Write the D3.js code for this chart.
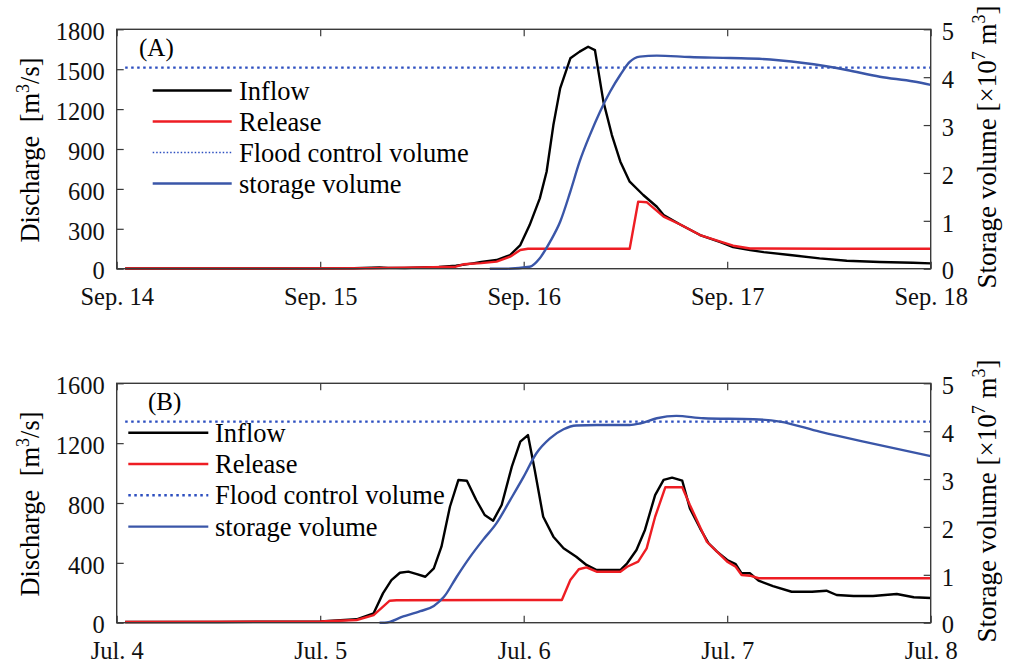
<!DOCTYPE html>
<html>
<head>
<meta charset="utf-8">
<script src="https://cdn.jsdelivr.net/npm/d3@7"></script>
<style>
    body { margin: 0; background: #fff; }
    svg, svg text { font-family: "Liberation Serif", "Times New Roman", Times, Tinos, "DejaVu Serif", serif; }
    .tick text { fill: #111; }
</style>
</head>
<body>
<div id="chart"></div>
<script>
// hours since start of the first day on the x axis
var dayTicks = [0, 24, 48, 72, 96];
var labelsA = ["Sep. 14", "Sep. 15", "Sep. 16", "Sep. 17", "Sep. 18"];
var labelsB = ["Jul. 4", "Jul. 5", "Jul. 6", "Jul. 7", "Jul. 8"];
var seriesNames = ["Inflow", "Release", "Flood control volume", "storage volume"];

// panel A
var inflowA_t = [1, 10, 20, 28, 30, 31, 32, 34, 38, 40, 42, 43, 44.8, 46.4, 47.6, 48.7, 49.9, 50.7, 51.5, 52.3, 53.5, 54.6, 55.6, 56.4, 57.4, 58.4, 59.4, 60.5, 62.1, 63.7, 64.5, 66.4, 68.8, 71.2, 72.7, 74.7, 76.3, 79.4, 82.9, 86.1, 90, 93.9, 96];
var inflowA = [2, 2, 2, 3, 8, 10, 6, 5, 14, 22, 40, 50, 65, 103, 178, 328, 529, 729, 1080, 1356, 1582, 1632, 1669, 1644, 1256, 1005, 805, 654, 554, 466, 404, 334, 253, 200, 162, 140, 125, 103, 78, 60, 50, 45, 40];
var releaseA_t = [1, 20, 30, 36, 40, 40.9, 43, 44.8, 46.4, 47.6, 48.5, 60.5, 61.5, 62.5, 64.5, 66.4, 68.8, 71.2, 72.7, 74.7, 85, 96];
var releaseA = [2, 2, 3, 10, 15, 33, 42, 53, 90, 141, 150, 150, 504, 500, 391, 334, 253, 203, 173, 152, 150, 150];
var storageA_t = [44, 46, 48.7, 49.9, 51.1, 52.3, 53.5, 54.6, 55.8, 57.0, 58.2, 59.4, 60.5, 61.7, 63.7, 67.6, 72.4, 77.1, 82.2, 86.1, 90, 94, 96];
var storageA = [0, 0, 0.04, 0.22, 0.56, 0.98, 1.61, 2.24, 2.79, 3.28, 3.70, 4.05, 4.32, 4.43, 4.45, 4.42, 4.40, 4.37, 4.27, 4.15, 4.01, 3.91, 3.84];
var floodA = 4.2;

// panel B
var inflowB_t = [1, 12, 24, 28.3, 30.3, 31.4, 32.4, 33.4, 34.4, 35.4, 36.4, 37.4, 38.3, 39.3, 40.3, 41.3, 42.4, 43.4, 44.4, 45.4, 46.6, 47.6, 48.5, 49.3, 50.3, 51.5, 52.7, 54.2, 55.4, 56.6, 59.4, 60.2, 61.3, 62.3, 63.5, 64.5, 65.5, 66.7, 67.6, 68.8, 69.8, 70.8, 72.0, 73.0, 73.7, 74.7, 75.7, 77.4, 79.6, 82.0, 83.7, 84.9, 86.9, 89.2, 92.0, 94.0, 96];
var inflowB = [5, 5, 8, 23, 63, 196, 285, 334, 341, 325, 307, 363, 508, 775, 954, 949, 820, 720, 682, 787, 1043, 1210, 1254, 1020, 708, 575, 497, 441, 386, 352, 352, 397, 486, 620, 853, 954, 969, 949, 764, 631, 531, 475, 419, 392, 330, 330, 281, 245, 207, 207, 214, 185, 178, 178, 192, 170, 165];
var releaseB_t = [1, 24, 28.3, 30.3, 32.2, 33, 52.5, 53.5, 54.5, 55.4, 56.6, 59.4, 60.2, 61.5, 62.5, 63.5, 64.7, 66.7, 67.6, 69.6, 72.0, 73.0, 73.7, 74.7, 75.7, 96];
var releaseB = [5, 8, 18, 51, 147, 150, 152, 285, 357, 370, 341, 341, 374, 408, 497, 708, 905, 905, 787, 541, 408, 374, 319, 314, 297, 297];
var storageB_t = [31, 31.6, 33.8, 35.8, 37.4, 38.6, 40.1, 41.7, 43.2, 44.8, 46.4, 48.0, 49.5, 51.1, 52.7, 54.2, 56.6, 60.5, 61.7, 63.7, 66.0, 69.2, 75.1, 78.2, 82.9, 88.9, 96];
var storageB = [0, 0, 0.13, 0.24, 0.35, 0.54, 0.96, 1.38, 1.73, 2.08, 2.56, 3.05, 3.54, 3.85, 4.04, 4.12, 4.13, 4.13, 4.16, 4.27, 4.32, 4.27, 4.25, 4.20, 3.99, 3.75, 3.48];
var floodB = 4.2;

var width = 1011, height = 666;
var fontFam = "'Liberation Serif', 'Times New Roman', Times, Tinos, 'DejaVu Serif', serif";
var axisColor = "#3a3a3a";
var colInflow = "#000000", colRelease = "#ee1d23", colStorage = "#3a56a8", colFlood = "#2d4fc0";
var lw = 2.4;

var svg = d3.select("#chart").append("svg")
    .attr("width", width)
    .attr("height", height)
    .attr("font-family", fontFam);

function pairs(t, v) {
    return t.map(function (d, i) { return { t: d, v: v[i] }; });
}

function drawPanel(p) {
    var left = 116.7, right = 930.7;
    var x = d3.scaleLinear().domain([0, 96]).range([left, right]);
    var yL = d3.scaleLinear().domain([0, p.maxL]).range([p.bottom, p.top]);
    var yR = d3.scaleLinear().domain([0, 5]).range([p.bottom, p.top]);

    var g = svg.append("g");

    // x axis bottom with labels, ticks pointing in
    var xb = g.append("g")
        .attr("transform", "translate(0," + p.bottom + ")")
        .call(d3.axisBottom(x).tickValues(dayTicks)
            .tickFormat(function (d, i) { return p.labels[i]; })
            .tickSizeInner(-7).tickSizeOuter(0).tickPadding(19));
    var xt = g.append("g")
        .attr("transform", "translate(0," + p.top + ")")
        .call(d3.axisTop(x).tickValues(dayTicks).tickFormat("")
            .tickSizeInner(-7).tickSizeOuter(0));
    var yl = g.append("g")
        .attr("transform", "translate(" + left + ",0)")
        .call(d3.axisLeft(yL).tickValues(p.ticksL).tickFormat(d3.format("d"))
            .tickSizeInner(-7).tickSizeOuter(0).tickPadding(12));
    var yr = g.append("g")
        .attr("transform", "translate(" + right + ",0)")
        .call(d3.axisRight(yR).ticks(5).tickFormat(d3.format("d"))
            .tickSizeInner(-7).tickSizeOuter(0).tickPadding(11));

    [xb, xt, yl, yr].forEach(function (a) {
        a.attr("font-family", fontFam);
        a.select(".domain").remove();
        a.selectAll(".tick line").attr("stroke", axisColor).attr("stroke-width", 1.2);
        a.selectAll(".tick text").attr("font-size", 24.5);
    });
    yl.selectAll(".tick text").attr("dy", "0.42em");
    yr.selectAll(".tick text").attr("dy", "0.42em");

    var line = d3.line().x(function (d) { return x(d.t); });
    var smooth = d3.line().x(function (d) { return x(d.t); })
        .y(function (d) { return yR(d.v); })
        .curve(d3.curveMonotoneX);

    g.append("path")
        .datum(pairs(p.inflowT, p.inflow))
        .attr("fill", "none").attr("stroke", colInflow).attr("stroke-width", lw)
        .attr("stroke-linejoin", "round")
        .attr("d", line.y(function (d) { return yL(d.v); }));
    g.append("path")
        .datum(pairs(p.releaseT, p.release))
        .attr("fill", "none").attr("stroke", colRelease).attr("stroke-width", lw)
        .attr("stroke-linejoin", "round")
        .attr("d", line.y(function (d) { return yL(d.v); }));
    g.append("path")
        .datum(pairs([1, 96], [p.flood, p.flood]))
        .attr("fill", "none").attr("stroke", colFlood).attr("stroke-width", 2.4)
        .attr("stroke-dasharray", "2.5,3.5")
        .attr("d", line.y(function (d) { return yR(d.v); }));
    g.append("path")
        .datum(pairs(p.storageT, p.storage))
        .attr("fill", "none").attr("stroke", colStorage).attr("stroke-width", lw)
        .attr("stroke-linejoin", "round")
        .attr("d", smooth);

    // box
    g.append("rect")
        .attr("x", left).attr("y", p.top)
        .attr("width", right - left).attr("height", p.bottom - p.top)
        .attr("fill", "none").attr("stroke", axisColor).attr("stroke-width", 1.4);

    // panel tag
    g.append("text")
        .attr("x", p.tagX).attr("y", p.tagY)
        .attr("font-size", 25)
        .text(p.tag);

    // legend
    var legStyles = [
        { c: colInflow, w: lw, dash: null },
        { c: colRelease, w: lw, dash: null },
        { c: colFlood, w: p.legDotW, dash: p.legDash },
        { c: colStorage, w: lw, dash: null }
    ];
    var leg = g.selectAll(".leg").data(seriesNames).enter().append("g")
        .attr("transform", function (d, i) { return "translate(0," + (p.legY + i * p.legStep) + ")"; });
    leg.append("line")
        .attr("x1", p.legX1).attr("x2", p.legX2)
        .attr("stroke", function (d, i) { return legStyles[i].c; })
        .attr("stroke-width", function (d, i) { return legStyles[i].w; })
        .attr("stroke-dasharray", function (d, i) { return legStyles[i].dash; });
    leg.append("text")
        .attr("x", p.legText).attr("y", 9)
        .attr("font-size", 26.5)
        .text(function (d) { return d; });

    // y labels
    var midY = (p.top + p.bottom) / 2;
    var tl = g.append("text")
        .attr("transform", "translate(39," + (midY + 1) + ") rotate(-90)")
        .attr("text-anchor", "middle")
        .attr("font-size", 26.5)
        .style("white-space", "pre");
    tl.append("tspan").text("Discharge  [m");
    tl.append("tspan").attr("dy", -10).attr("font-size", 18).text("3");
    tl.append("tspan").attr("dy", 10).text("/s]");

    var tr = g.append("text")
        .attr("transform", "translate(996," + (midY - 2) + ") rotate(-90)")
        .attr("text-anchor", "middle")
        .attr("font-size", 27)
        .style("white-space", "pre");
    tr.append("tspan").text("Storage volume [\u00d710");
    tr.append("tspan").attr("dy", -11).attr("font-size", 18).text("7");
    tr.append("tspan").attr("dy", 11).text(" m");
    tr.append("tspan").attr("dy", -11).attr("font-size", 18).text("3");
    tr.append("tspan").attr("dy", 11).text("]");
}

drawPanel({
    top: 29.3, bottom: 268.7, maxL: 1800,
    ticksL: [0, 300, 600, 900, 1200, 1500, 1800],
    labels: labelsA,
    inflowT: inflowA_t, inflow: inflowA,
    releaseT: releaseA_t, release: releaseA,
    storageT: storageA_t, storage: storageA,
    flood: floodA,
    tag: "(A)", tagX: 139, tagY: 56,
    legX1: 152.7, legX2: 231.7, legText: 239, legY: 90.5, legStep: 31,
    legDotW: 1.3, legDash: "1.5,2"
});

drawPanel({
    top: 383.3, bottom: 622.7, maxL: 1600,
    ticksL: [0, 400, 800, 1200, 1600],
    labels: labelsB,
    inflowT: inflowB_t, inflow: inflowB,
    releaseT: releaseB_t, release: releaseB,
    storageT: storageB_t, storage: storageB,
    flood: floodB,
    tag: "(B)", tagX: 148, tagY: 410,
    legX1: 128.3, legX2: 208.3, legText: 215, legY: 432.7, legStep: 31.3,
    legDotW: 2.4, legDash: "2.5,3.5"
});
</script>
</body>
</html>
